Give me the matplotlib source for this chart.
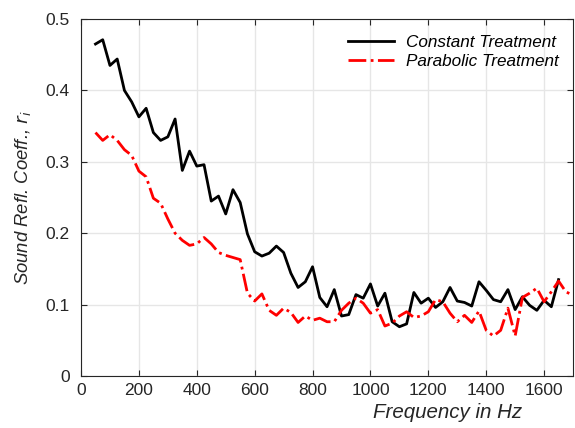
import numpy as np
import matplotlib
matplotlib.use('Agg')
import matplotlib.pyplot as plt

plt.rcParams['font.family'] = ['Liberation Sans', 'DejaVu Sans']

# frequencies in Hz
freq_const = np.arange(50, 1651, 25)
freq_para = np.arange(50, 1701, 25)

const = [0.465, 0.471, 0.435, 0.444, 0.400, 0.384, 0.363, 0.375, 0.341, 0.330,
         0.335, 0.360, 0.288, 0.315, 0.294, 0.296, 0.245, 0.252, 0.227, 0.261,
         0.243, 0.199, 0.174, 0.168, 0.172, 0.182, 0.173, 0.144, 0.124, 0.132,
         0.153, 0.110, 0.097, 0.121, 0.084, 0.086, 0.114, 0.109, 0.129, 0.098,
         0.116, 0.076, 0.069, 0.073, 0.117, 0.102, 0.109, 0.096, 0.104, 0.124,
         0.105, 0.103, 0.098, 0.132, 0.120, 0.107, 0.104, 0.121, 0.093, 0.111,
         0.099, 0.092, 0.106, 0.097, 0.135]

para = [0.341, 0.330, 0.338, 0.330, 0.317, 0.309, 0.287, 0.279, 0.249, 0.242,
        0.220, 0.200, 0.190, 0.183, 0.185, 0.194, 0.185, 0.173, 0.169, 0.166,
        0.163, 0.116, 0.105, 0.115, 0.092, 0.085, 0.095, 0.089, 0.075, 0.084,
        0.078, 0.081, 0.076, 0.076, 0.092, 0.102, 0.109, 0.102, 0.088, 0.093,
        0.070, 0.074, 0.084, 0.090, 0.082, 0.084, 0.090, 0.107, 0.104, 0.088,
        0.076, 0.085, 0.075, 0.091, 0.064, 0.056, 0.064, 0.095, 0.056, 0.110,
        0.116, 0.123, 0.104, 0.118, 0.133, 0.118, 0.113]

fig = plt.figure(figsize=(5.75, 4.28), dpi=100)
ax = fig.add_axes([0.1409, 0.1215, 0.8557, 0.834])

ax.plot(freq_const, const, 'k-', lw=2, label='Constant Treatment')
ax.plot(freq_para, para, 'r-.', lw=2, label='Parabolic Treatment')

ax.set_xlim(0, 1700)
ax.set_ylim(0, 0.5)
ax.set_xticks(np.arange(0, 1601, 200))
ax.set_yticks([0, 0.1, 0.2, 0.3, 0.4, 0.5])
ax.set_yticklabels(['0', '0.1', '0.2', '0.3', '0.4', '0.5'])
ax.grid(True, color='#e6e6e6', lw=1)
ax.set_axisbelow(True)

for s in ax.spines.values():
    s.set_color('#262626')
ax.tick_params(direction='in', top=True, right=True, labelsize=12.5,
               colors='#262626', length=4)
ax.tick_params(axis='y', pad=8)
ax.tick_params(axis='x', pad=5)

ax.set_xlabel('Frequency in Hz', fontsize=14.8, style='italic', color='#262626')
ax.xaxis.set_label_coords(0.744, -0.075)
ax.set_ylabel('Sound Refl. Coeff., $r_i$', fontsize=13.3, style='italic',
              color='#262626')
ax.yaxis.set_label_coords(-0.098, 0.5)

leg = ax.legend(loc='upper right', frameon=False,
                prop={'style': 'italic', 'size': 12.3}, handlelength=2.7,
                handletextpad=0.7, borderaxespad=0.3, labelspacing=0.25,
                bbox_to_anchor=(0.995, 0.99))

fig.savefig('out.png', dpi=100)
